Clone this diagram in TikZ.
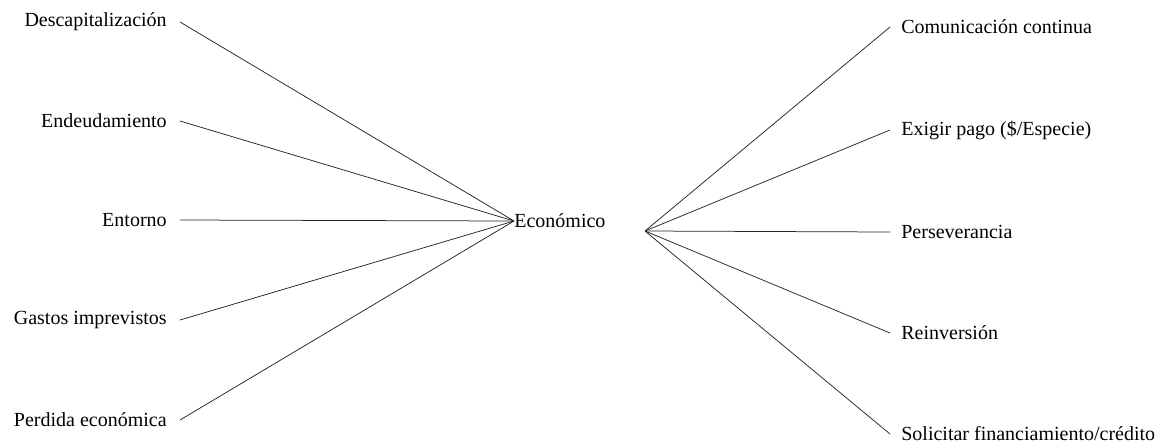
\documentclass[tikz,border=0pt]{standalone}
\usepackage{fontspec}
\setmainfont{Liberation Serif}
\usetikzlibrary{positioning}

\begin{document}
\begin{tikzpicture}[x=0.6pt, y=-0.6pt, every node/.style={font=\fontsize{12}{14}\selectfont}, cause/.style={anchor=east,inner sep=7.8pt}, action/.style={anchor=west,inner sep=6.6pt}, link/.style={draw,line width=0.45pt,black!85}]
\useasboundingbox (0,0) rectangle (1162,444);
\node[anchor=west,inner sep=0pt] (eco) at (514,221) {Económico};
\coordinate (hub) at (645,231);
% left side
\node[cause] (descap) at (180,22) {Descapitalización};
\node[cause] (endeud) at (180,121) {Endeudamiento};
\node[cause] (entorno) at (180,220) {Entorno};
\node[cause] (gastos) at (180,320) {Gastos imprevistos};
\node[cause] (perdida) at (180,420) {Perdida económica};
\path[link] (descap.east) -- (eco.west);
\path[link] (endeud.east) -- (eco.west);
\path[link] (entorno.east) -- (eco.west);
\path[link] (gastos.east) -- (eco.west);
\path[link] (perdida.east) -- (eco.west);
% right side
\node[action] (comun) at (890,27) {Comunicación continua};
\node[action] (pago) at (890,130) {Exigir pago (\$/Especie)};
\node[action] (perse) at (890,232) {Perseverancia};
\node[action] (reinv) at (890,333) {Reinversión};
\node[action] (solic) at (890,434) {Solicitar financiamiento/crédito};
\path[link] (hub) -- (comun.west);
\path[link] (hub) -- (pago.west);
\path[link] (hub) -- (perse.west);
\path[link] (hub) -- (reinv.west);
\path[link] (hub) -- (solic.west);
\end{tikzpicture}
\end{document}
